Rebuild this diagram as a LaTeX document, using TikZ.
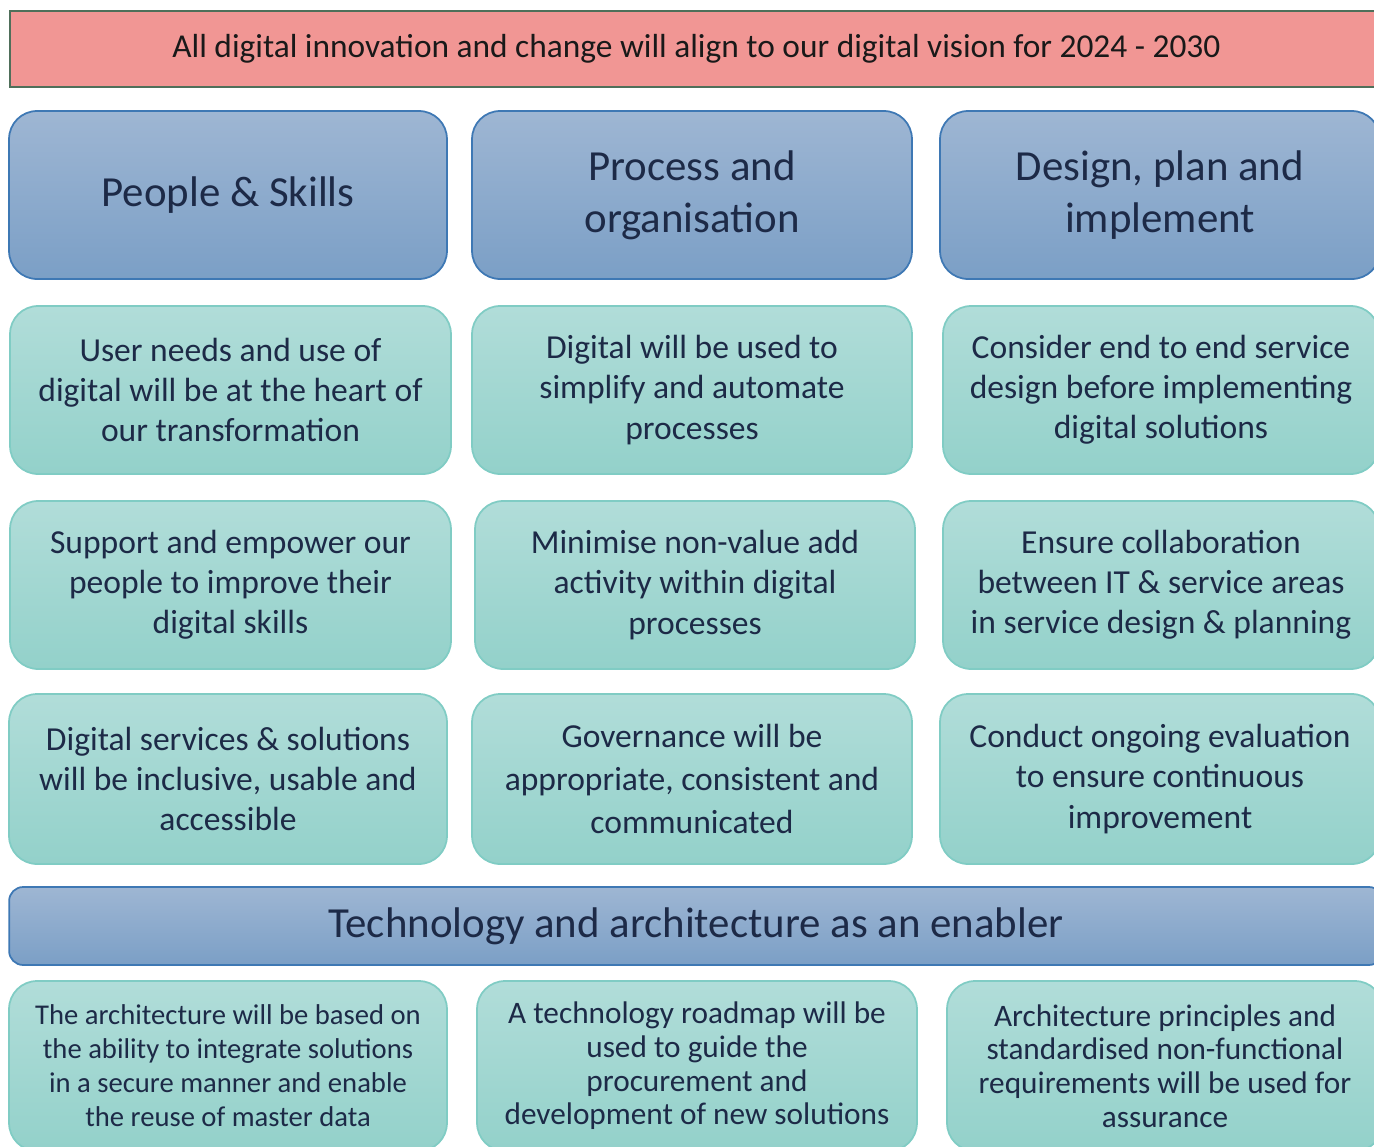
\documentclass[tikz,border=0pt]{standalone}
\usepackage{fontspec}
\setmainfont{Carlito}
\usetikzlibrary{positioning}

\definecolor{visionfill}{HTML}{F19694}
\definecolor{visionline}{HTML}{4F6F5A}
\definecolor{pillartop}{HTML}{9EB6D3}
\definecolor{pillarbot}{HTML}{7B9FC6}
\definecolor{pillarline}{HTML}{3E78B4}
\definecolor{cardtop}{HTML}{B1DDD9}
\definecolor{cardbot}{HTML}{93D1CA}
\definecolor{cardline}{HTML}{80CCC4}
\definecolor{navytext}{HTML}{1D2A47}

\tikzset{
  vision/.style={rectangle, draw=visionline, line width=1pt, fill=visionfill,
    minimum width=27.46cm, minimum height=1.52cm, text=black!90,
    font=\fontsize{19}{22}\selectfont},
  pillar/.style={rectangle, rounded corners=0.56cm, draw=pillarline, line width=1pt,
    top color=pillartop, bottom color=pillarbot, minimum height=3.36cm,
    align=center, text=navytext, font=\fontsize{24.4}{29.6}\selectfont},
  card/.style={rectangle, rounded corners=0.56cm, draw=cardline, line width=1pt,
    top color=cardtop, bottom color=cardbot, minimum height=3.36cm,
    align=center, text=navytext, font=\fontsize{19.1}{22.8}\selectfont},
  enabler/.style={rectangle, rounded corners=0.28cm, draw=pillarline, line width=1pt,
    top color=pillartop, bottom color=pillarbot, minimum width=27.48cm,
    minimum height=1.56cm, text=navytext, font=\fontsize{24.4}{28}\selectfont},
  techcard/.style={card, minimum height=3.4cm, font=\fontsize{17.8}{19.2}\selectfont},
}

\begin{document}
\begin{tikzpicture}[x=0.02cm, y=-0.02cm]

\useasboundingbox (0,0) rectangle (1374,1147);
\clip (0,0) rectangle (1374,1147);

% vision banner
\node (vision) at (696.5,49) [vision] {All digital innovation and change will align to our digital vision for 2024 - 2030};

% pillars
\node (people)  at (228,195)  [pillar, minimum width=8.76cm] {People \& Skills};
\node (process) at (692,195)  [pillar, minimum width=8.8cm]  {Process and\\organisation};
\node (design)  at (1160,195) [pillar, minimum width=8.8cm]  {Design, plan and\\implement};

% row 1
\node (userneeds)  at (230.5,390) [card, minimum width=8.82cm] {User needs and use of\\digital will be at the heart of\\our transformation};
\node (simplify)   at (692,390)   [card, minimum width=8.8cm]  {Digital will be used to\\simplify and automate\\processes};
\node (endtoend)   at (1161,390)  [card, minimum width=8.72cm] {Consider end to end service\\design before implementing\\digital solutions};

% row 2
\node (empower)    at (230.5,585) [card, minimum width=8.82cm] {Support and empower our\\people to improve their\\digital skills};
\node (minimise)   at (695,585)   [card, minimum width=8.8cm]  {Minimise non-value add\\activity within digital\\processes};
\node (collab)     at (1161,585)  [card, minimum width=8.72cm] {Ensure collaboration\\between IT \& service areas\\in service design \& planning};

% row 3
\node (inclusive)  at (228,779)   [card, minimum width=8.76cm, minimum height=3.4cm] {Digital services \& solutions\\will be inclusive, usable and\\accessible};
\node (governance) at (692,779)   [card, minimum width=8.8cm, minimum height=3.4cm, font=\fontsize{19.1}{24.5}\selectfont] {Governance will be\\appropriate, consistent and\\communicated};
\node (evaluation) at (1160,779)  [card, minimum width=8.8cm, minimum height=3.4cm] {Conduct ongoing evaluation\\to ensure continuous\\improvement};

% enabler
\node (enabler) at (696,926) [enabler] {Technology and architecture as an enabler};

% technology cards
\node (integrate) at (228,1066)  [techcard, minimum width=8.76cm, font=\fontsize{16.3}{19.4}\selectfont] {The architecture will be based on\\the ability to integrate solutions\\in a secure manner and enable\\the reuse of master data};
\node (roadmap)   at (697,1066)  [techcard, minimum width=8.8cm]  {A technology roadmap will be\\used to guide the\\procurement and\\development of new solutions};
\node (principles) at (1165,1066) [techcard, minimum width=8.72cm] {Architecture principles and\\standardised non-functional\\requirements will be used for\\assurance};

\end{tikzpicture}
\end{document}
